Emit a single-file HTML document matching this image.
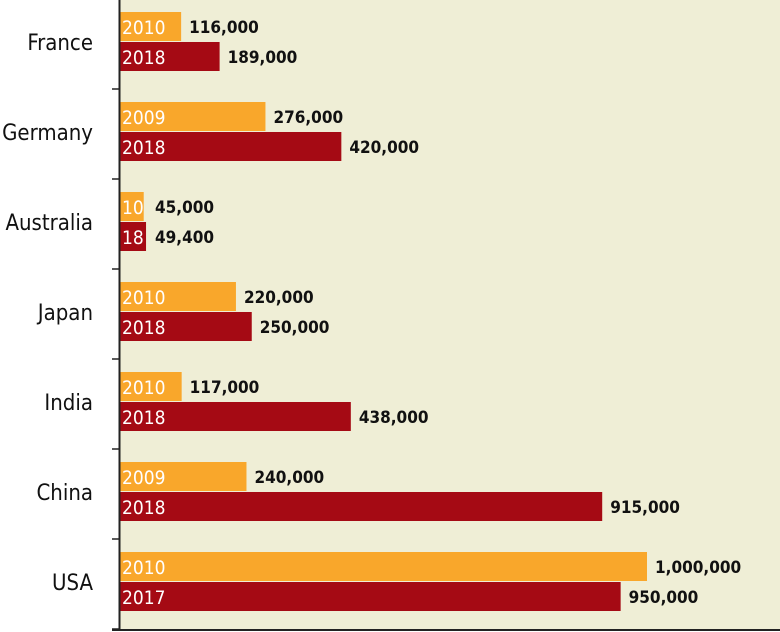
<!DOCTYPE html>
<html><head><meta charset="utf-8"><style>
html,body{margin:0;padding:0;background:#fff;}
svg{display:block;}
text{font-family:"DejaVu Sans Condensed","Liberation Sans",sans-serif;}
</style></head><body>
<svg id="chart" width="780" height="632" viewBox="0 0 780 632" xmlns="http://www.w3.org/2000/svg">
<rect x="120" y="0" width="660" height="630" fill="#efeed6"/>
<g id="bars"></g>
<line x1="119.5" y1="0" x2="119.5" y2="631" stroke="#222" stroke-width="2"/>
<line x1="112" y1="630" x2="780" y2="630" stroke="#222" stroke-width="2"/>
</svg>
<script>
const categories = ["France","Germany","Australia","Japan","India","China","USA"];
const firstYears = ["2010","2009","10","2010","2010","2009","2010"];
const firstValues = [116000,276000,45000,220000,117000,240000,1000000];
const secondYears = ["2018","2018","18","2018","2018","2018","2017"];
const secondValues = [189000,420000,49400,250000,438000,915000,950000];

const NS="http://www.w3.org/2000/svg";
const x0=120, xScale=v=>x0+v*527/1000000;
const band=90, top0=-1;
const yBand=i=>top0+i*band;
const g=document.getElementById('bars');
function mk(tag,attrs,txt){const e=document.createElementNS(NS,tag);for(const k in attrs)e.setAttribute(k,attrs[k]);if(txt!=null)e.textContent=txt;g.appendChild(e);return e;}
const fmt=v=>v.toLocaleString('en-US');
categories.forEach((c,i)=>{
  const y=yBand(i);
  const t=mk('line',{x1:112,x2:120,y1:y+band,y2:y+band,stroke:'#222','stroke-width':1.5});
  
  
  const lab=mk('text',{x:93,y:y+band/2+6,'text-anchor':'end','font-size':22,fill:'#111'},c);
  
  
  [[firstValues[i],firstYears[i],'#f9a72b',13],[secondValues[i],secondYears[i],'#a50a14',43]].forEach(([v,yr,col,off],k)=>{
    const xe=xScale(v);
    const r=mk('rect',{x:x0,y:y+off,width:xe-x0,height:29,fill:col});
    
    
    const yt=mk('text',{x:x0+2,y:y+off+22,'font-size':19,fill:'#fff'},yr);
    
    
    const yrW=yr.length*11+5;
    const lx=Math.max(xe,x0+yrW)+8;
    const vt=mk('text',{x:lx,y:y+off+21,'font-size':17,'font-weight':'bold',fill:'#111'},fmt(v));
    
    
  });
});
</script>
</body></html>
